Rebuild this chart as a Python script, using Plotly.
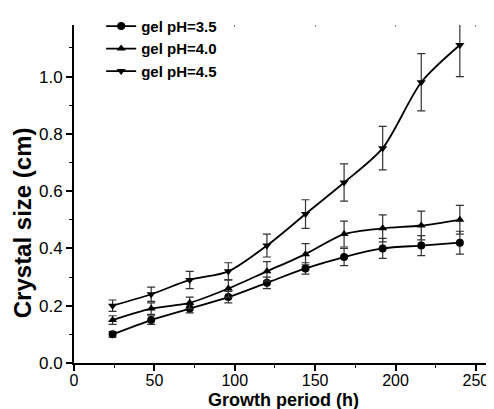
import plotly.graph_objs as go

hours = [24, 48, 72, 96, 120, 144, 168, 192, 216, 240]

size_35 = [0.10, 0.15, 0.19, 0.23, 0.28, 0.33, 0.37, 0.40, 0.41, 0.42]
err_35 = [0.01, 0.015, 0.015, 0.02, 0.02, 0.02, 0.03, 0.035, 0.035, 0.04]

size_40 = [0.15, 0.19, 0.21, 0.26, 0.32, 0.38, 0.45, 0.47, 0.48, 0.50]
err_40 = [0.015, 0.02, 0.02, 0.03, 0.034, 0.037, 0.045, 0.047, 0.05, 0.05]

size_45 = [0.20, 0.24, 0.29, 0.32, 0.41, 0.52, 0.63, 0.75, 0.98, 1.11]
err_45 = [0.02, 0.025, 0.03, 0.03, 0.04, 0.05, 0.065, 0.076, 0.10, 0.11]

x_ticks = [0, 50, 100, 150, 200, 250]
y_ticks = [0, 0.2, 0.4, 0.6, 0.8, 1.0]

series = [
    ('gel pH=3.5', size_35, err_35, 'circle'),
    ('gel pH=4.0', size_40, err_40, 'triangle-up'),
    ('gel pH=4.5', size_45, err_45, 'triangle-down'),
]

font = 'Liberation Sans, Arial, sans-serif'

data = []
for name, vals, errs, sym in series:
    data.append(go.Scatter(
        x=hours, y=vals, name=name,
        mode='lines+markers',
        line=dict(color='black', width=1.8, shape='spline', smoothing=0.8),
        marker=dict(symbol=sym, size=8, color='black'),
        error_y=dict(type='data', array=errs, visible=True,
                     color='#333333', thickness=1.2, width=4),
    ))

# empty trace so the faint top tick marks get drawn
data.append(go.Scatter(x=[None], y=[None], xaxis='x2', showlegend=False,
                       hoverinfo='skip'))

# page body has an 8px margin, so the figure is sized to fit the window
layout = go.Layout(
    width=486, height=401,
    margin=dict(l=66, r=2, t=7, b=46),
    plot_bgcolor='white', paper_bgcolor='white',
    font=dict(family=font, color='black'),
    showlegend=True,
    legend=dict(x=0.065, y=1.045, xanchor='left', yanchor='top',
                bgcolor='rgba(0,0,0,0)', tracegroupgap=0,
                font=dict(family=font, size=15, color='black', weight='bold'),
                itemwidth=30),
    xaxis=dict(
        range=[0, 260], tickvals=x_ticks,
        showgrid=False, zeroline=False, automargin=False,
        showline=True, linecolor='black', linewidth=2,
        ticks='outside', ticklen=6, tickwidth=1.5, tickcolor='black',
        ticklabelstandoff=-4,
        minor=dict(tickvals=[25, 75, 125, 175, 225], ticks='outside',
                   ticklen=3, tickwidth=1.2, tickcolor='black'),
        tickfont=dict(size=16, family=font),
    ),
    xaxis2=dict(
        range=[0, 260], tickvals=x_ticks, overlaying='x', side='top',
        showgrid=False, zeroline=False, showline=False, automargin=False,
        showticklabels=False, ticks='inside', ticklen=2, tickwidth=1,
        tickcolor='#888888',
    ),
    yaxis=dict(
        range=[0, 1.18], tickvals=y_ticks,
        tickformat='.1f', automargin=False,
        showgrid=False, zeroline=False,
        showline=True, linecolor='black', linewidth=2,
        ticks='outside', ticklen=6, tickwidth=1.5, tickcolor='black',
        minor=dict(tickvals=[0.1, 0.3, 0.5, 0.7, 0.9, 1.1], ticks='outside',
                   ticklen=3, tickwidth=1.2, tickcolor='black'),
        tickfont=dict(size=17, family=font),
    ),
    annotations=[
        dict(text='Growth period (h)', xref='paper', yref='paper',
             x=0.5, y=-0.11, xanchor='center', yanchor='middle',
             showarrow=False,
             font=dict(size=18, family=font, weight='bold')),
        dict(text='Crystal size (cm)', xref='paper', yref='paper',
             x=-0.124, y=0.414, xanchor='center', yanchor='middle',
             textangle=-90, showarrow=False,
             font=dict(size=24, family=font, weight='bold')),
    ],
)

fig = go.Figure(data=data, layout=layout)
fig.write_html('out.html')
